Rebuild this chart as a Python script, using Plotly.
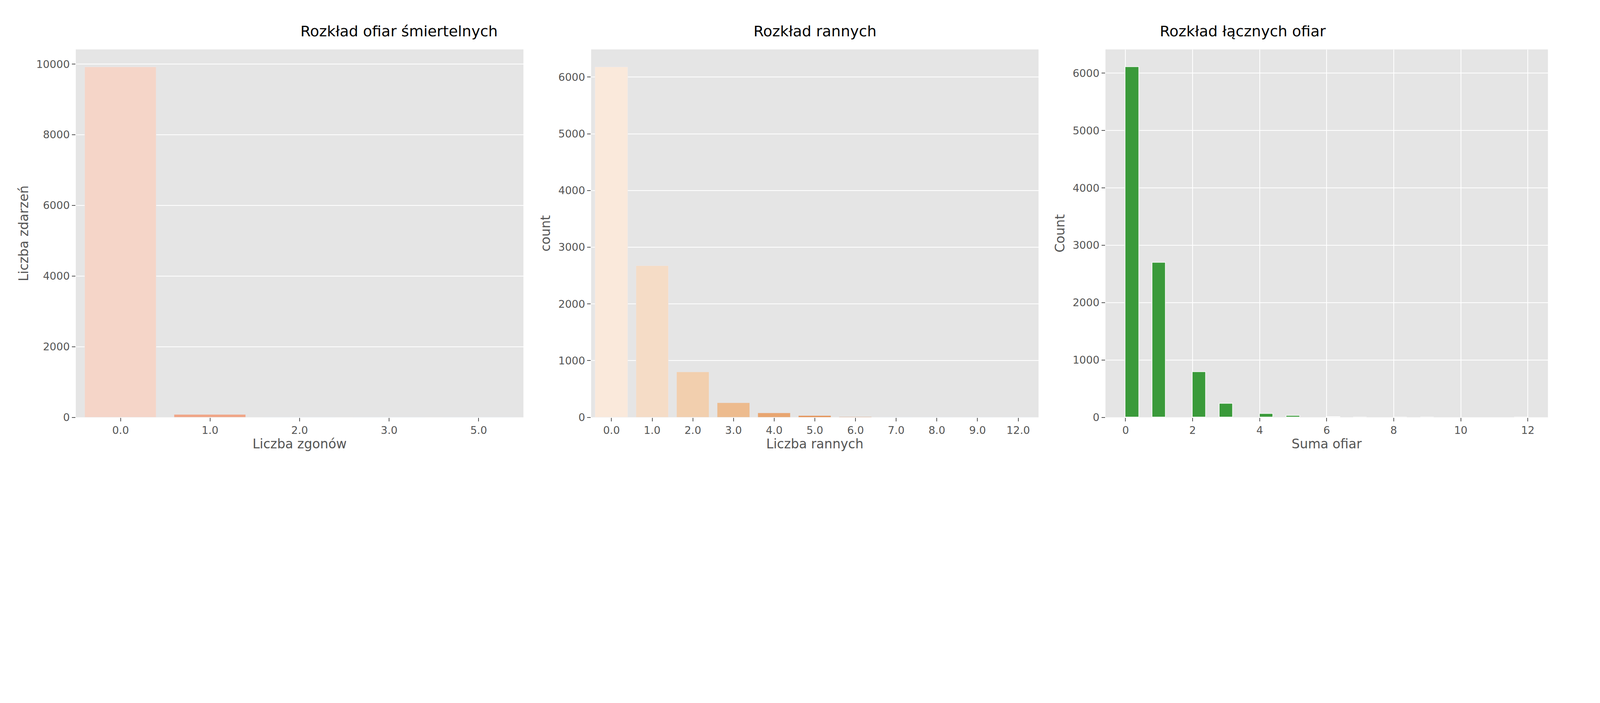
import plotly.graph_objects as go

deaths_cat = ["0.0", "1.0", "2.0", "3.0", "5.0"]
deaths_cnt = [9920, 75, 3, 1, 1]
deaths_col = ["#f5d5c8", "#f0a586", "#e5644a", "#c3211f", "#7a0c12"]

inj_cat = ["0.0", "1.0", "2.0", "3.0", "4.0", "5.0", "6.0", "7.0", "8.0", "9.0", "12.0"]
inj_cnt = [6180, 2670, 800, 255, 75, 25, 8, 2, 1, 1, 1]
inj_col = ["#fae9db", "#f5dcc6", "#f2cfae", "#edbb8e", "#e8a570", "#e59356", "#de8547",
           "#d3743a", "#c4642d", "#b05322", "#8f3e14"]

tot_x = [0.2, 1.0, 2.2, 3.0, 4.2, 5.0, 6.2, 7.0, 8.2, 9.0, 11.8]
tot_cnt = [6110, 2700, 790, 240, 65, 25, 6, 2, 1, 1, 1]

W, H = 4000, 1200
S = W / 6000

fig = go.Figure()
fig.add_bar(x=deaths_cat, y=deaths_cnt, marker_color=deaths_col, width=0.8, xaxis="x", yaxis="y")
fig.add_bar(x=inj_cat, y=inj_cnt, marker_color=inj_col, width=0.8, xaxis="x2", yaxis="y2")
fig.add_bar(x=tot_x, y=tot_cnt, marker_color="#3a9a3a", marker_line_color="white",
            marker_line_width=1.5, width=0.4, xaxis="x3", yaxis="y3")

tick = dict(family="DejaVu Sans", size=27, color="#555555")
ttl = dict(family="DejaVu Sans", size=33, color="#555555")
common = dict(showline=False, zeroline=False, ticks="outside", ticklen=9, tickwidth=2,
              tickcolor="#555555", tickfont=tick, gridcolor="white", gridwidth=2, tickformat="d")

dom = [(279 / 6000, 1998 / 6000), (2258 / 6000, 3976 / 6000), (4233 / 6000, 5932 / 6000)]
ydom = [1 - 1611 / 1800, 1 - 180 / 1800]

fig.update_layout(
    width=W, height=H, plot_bgcolor="#e5e5e5", paper_bgcolor="white",
    showlegend=False, bargap=0,
    margin=dict(l=0, r=0, t=0, b=0),
    xaxis=dict(domain=dom[0], anchor="y", showgrid=False, type="category",
               title=dict(text="Liczba zgonów", font=ttl, standoff=8), **common),
    yaxis=dict(domain=ydom, anchor="x", range=[0, 10416], tickvals=[0, 2000, 4000, 6000, 8000, 10000],
               title=dict(text="Liczba zdarzeń", font=ttl, standoff=10), **common),
    xaxis2=dict(domain=dom[1], anchor="y2", showgrid=False, type="category",
                title=dict(text="Liczba rannych", font=ttl, standoff=8), **common),
    yaxis2=dict(domain=ydom, anchor="x2", range=[0, 6489], tickvals=list(range(0, 7000, 1000)),
                title=dict(text="count", font=ttl, standoff=10), **common),
    xaxis3=dict(domain=dom[2], anchor="y3", range=[-0.6, 12.6], tickvals=list(range(0, 13, 2)),
                title=dict(text="Suma ofiar", font=ttl, standoff=8), **common),
    yaxis3=dict(domain=ydom, anchor="x3", range=[0, 6415], tickvals=list(range(0, 7000, 1000)),
                title=dict(text="Count", font=ttl, standoff=10), **common),
)

titles = ["Rozkład ofiar śmiertelnych", "Rozkład rannych", "Rozkład łącznych ofiar"]
for (a, b), t in zip(dom, titles):
    fig.add_annotation(text=t, x=(a + b) / 2, y=1 - 73 / 1800, xref="paper", yref="paper",
                       showarrow=False, font=dict(family="DejaVu Sans", size=38, color="black"))

fig.write_html("out.html")
